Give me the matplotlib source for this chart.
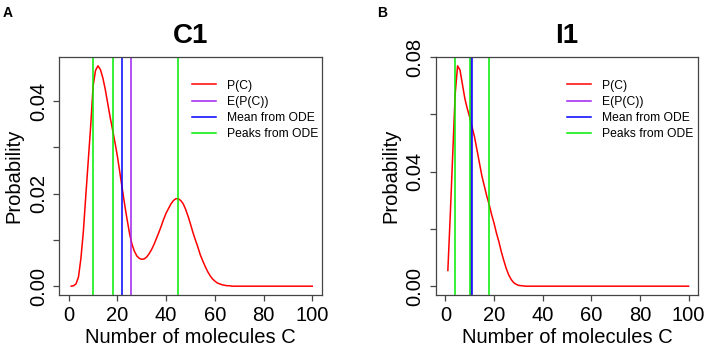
import numpy as np
import matplotlib
matplotlib.use("Agg")
import matplotlib.pyplot as plt

plt.rcParams["font.family"] = ["Liberation Sans", "DejaVu Sans"]

# ---- data ------------------------------------------------------------------

molecules = np.arange(1, 101)

# panel A (C1): P(C) for C = 1..100
prob_c1 = [
    0.0000, 0.0001, 0.0005, 0.0020, 0.0060, 0.0118, 0.0195, 0.0270, 0.0345, 0.0432,
    0.0466, 0.0476, 0.0468, 0.0450, 0.0425, 0.0395, 0.0365, 0.0338, 0.0310, 0.0280,
    0.0245, 0.0210, 0.0175, 0.0143, 0.0113, 0.0090, 0.0075, 0.0065, 0.0060, 0.0058,
    0.0059, 0.0063, 0.0070, 0.0079, 0.0090, 0.0103, 0.0116, 0.0130, 0.0145, 0.0158,
    0.0168, 0.0178, 0.0185, 0.0189, 0.0189, 0.0185, 0.0178, 0.0166, 0.0151, 0.0134,
    0.0116, 0.0100, 0.0085, 0.0068, 0.0055, 0.0043, 0.0032, 0.0023, 0.0016, 0.0011,
    0.0007, 0.0005, 0.0003, 0.0002, 0.0001, 0.0001, 0.0000, 0.0000, 0.0000, 0.0000,
    0.0000, 0.0000, 0.0000, 0.0000, 0.0000, 0.0000, 0.0000, 0.0000, 0.0000, 0.0000,
    0.0000, 0.0000, 0.0000, 0.0000, 0.0000, 0.0000, 0.0000, 0.0000, 0.0000, 0.0000,
    0.0000, 0.0000, 0.0000, 0.0000, 0.0000, 0.0000, 0.0000, 0.0000, 0.0000, 0.0000,
]
expect_c1 = 25.5
ode_mean_c1 = 21.8
ode_peaks_c1 = [10, 18, 45]

# panel B (I1)
prob_i1 = [
    0.0055, 0.0250, 0.0460, 0.0670, 0.0770, 0.0755, 0.0705, 0.0655, 0.0620, 0.0590,
    0.0555, 0.0520, 0.0475, 0.0430, 0.0385, 0.0350, 0.0315, 0.0285, 0.0250, 0.0220,
    0.0185, 0.0155, 0.0120, 0.0090, 0.0062, 0.0040, 0.0024, 0.0013, 0.0007, 0.0003,
    0.0002, 0.0001, 0.0000, 0.0000, 0.0000, 0.0000, 0.0000, 0.0000, 0.0000, 0.0000,
    0.0000, 0.0000, 0.0000, 0.0000, 0.0000, 0.0000, 0.0000, 0.0000, 0.0000, 0.0000,
    0.0000, 0.0000, 0.0000, 0.0000, 0.0000, 0.0000, 0.0000, 0.0000, 0.0000, 0.0000,
    0.0000, 0.0000, 0.0000, 0.0000, 0.0000, 0.0000, 0.0000, 0.0000, 0.0000, 0.0000,
    0.0000, 0.0000, 0.0000, 0.0000, 0.0000, 0.0000, 0.0000, 0.0000, 0.0000, 0.0000,
    0.0000, 0.0000, 0.0000, 0.0000, 0.0000, 0.0000, 0.0000, 0.0000, 0.0000, 0.0000,
    0.0000, 0.0000, 0.0000, 0.0000, 0.0000, 0.0000, 0.0000, 0.0000, 0.0000, 0.0000,
]
expect_i1 = 10.6
ode_mean_i1 = 10.8
ode_peaks_i1 = [4, 10, 18]

xticks = [0, 20, 40, 60, 80, 100]
yticks_c1 = [0.00, 0.01, 0.02, 0.03, 0.04]
ylabels_c1 = ["0.00", "", "0.02", "", "0.04"]
yticks_i1 = [0.00, 0.02, 0.04, 0.06, 0.08]
ylabels_i1 = ["0.00", "", "0.04", "", "0.08"]

COLORS = {"pc": "#FF0000", "exp": "#A020F0", "mean": "#0000FF", "peak": "#00EE00"}
FRAME = "#444444"

# ---- figure ----------------------------------------------------------------

fig = plt.figure(figsize=(7.08, 3.47), dpi=100)
ax_a = fig.add_axes([59 / 708, 52 / 347, 263 / 708, 238 / 347])
ax_b = fig.add_axes([435.7 / 708, 52 / 347, 262.6 / 708, 238 / 347])


def draw_panel(ax, probs, expect, ode_mean, peaks, title, yticks, ylabels, leg_x):
    lw = 1.1
    ax.plot(molecules, probs, color=COLORS["pc"], lw=lw, label="P(C)")
    ax.axvline(expect, color=COLORS["exp"], lw=lw, label="E(P(C))")
    ax.axvline(ode_mean, color=COLORS["mean"], lw=lw, label="Mean from ODE")
    for i, p in enumerate(peaks):
        ax.axvline(p, color=COLORS["peak"], lw=lw,
                   label="Peaks from ODE" if i == 0 else None)

    ymax = max(probs)
    ax.set_xlim(-4, 104)
    ax.set_ylim(-0.04 * ymax, 1.04 * ymax)
    ax.set_xticks(xticks)
    ax.set_yticks(yticks)
    ax.set_yticklabels(ylabels)
    ax.tick_params(axis="both", labelsize=14.5, length=4, width=0.9,
                   color=FRAME, pad=4)
    ax.tick_params(axis="y", labelrotation=90)
    for t in ax.get_yticklabels():
        t.set_va("center")
    for s in ax.spines.values():
        s.set_color(FRAME)
        s.set_linewidth(0.9)

    ax.set_xlabel("Number of molecules C", fontsize=14.5, labelpad=2)
    ax.set_ylabel("Probability", fontsize=14.5, labelpad=4)
    ax.set_title(title, fontsize=20, fontweight="bold", pad=10)

    ax.legend(loc="upper left", bbox_to_anchor=(leg_x, 0.905), frameon=False,
              fontsize=8.7, handlelength=1.95, handletextpad=0.9,
              labelspacing=0.35, borderpad=0, borderaxespad=0)


draw_panel(ax_a, prob_c1, expect_c1, ode_mean_c1, ode_peaks_c1, "C1",
           yticks_c1, ylabels_c1, 0.507)
draw_panel(ax_b, prob_i1, expect_i1, ode_mean_i1, ode_peaks_i1, "I1",
           yticks_i1, ylabels_i1, 0.501)

fig.text(3 / 708, 1 - 6 / 347, "A", fontsize=10, fontweight="bold", va="top")
fig.text(377 / 708, 1 - 6 / 347, "B", fontsize=10, fontweight="bold", va="top")

fig.savefig("out.png", dpi=100)
plt.close(fig)
